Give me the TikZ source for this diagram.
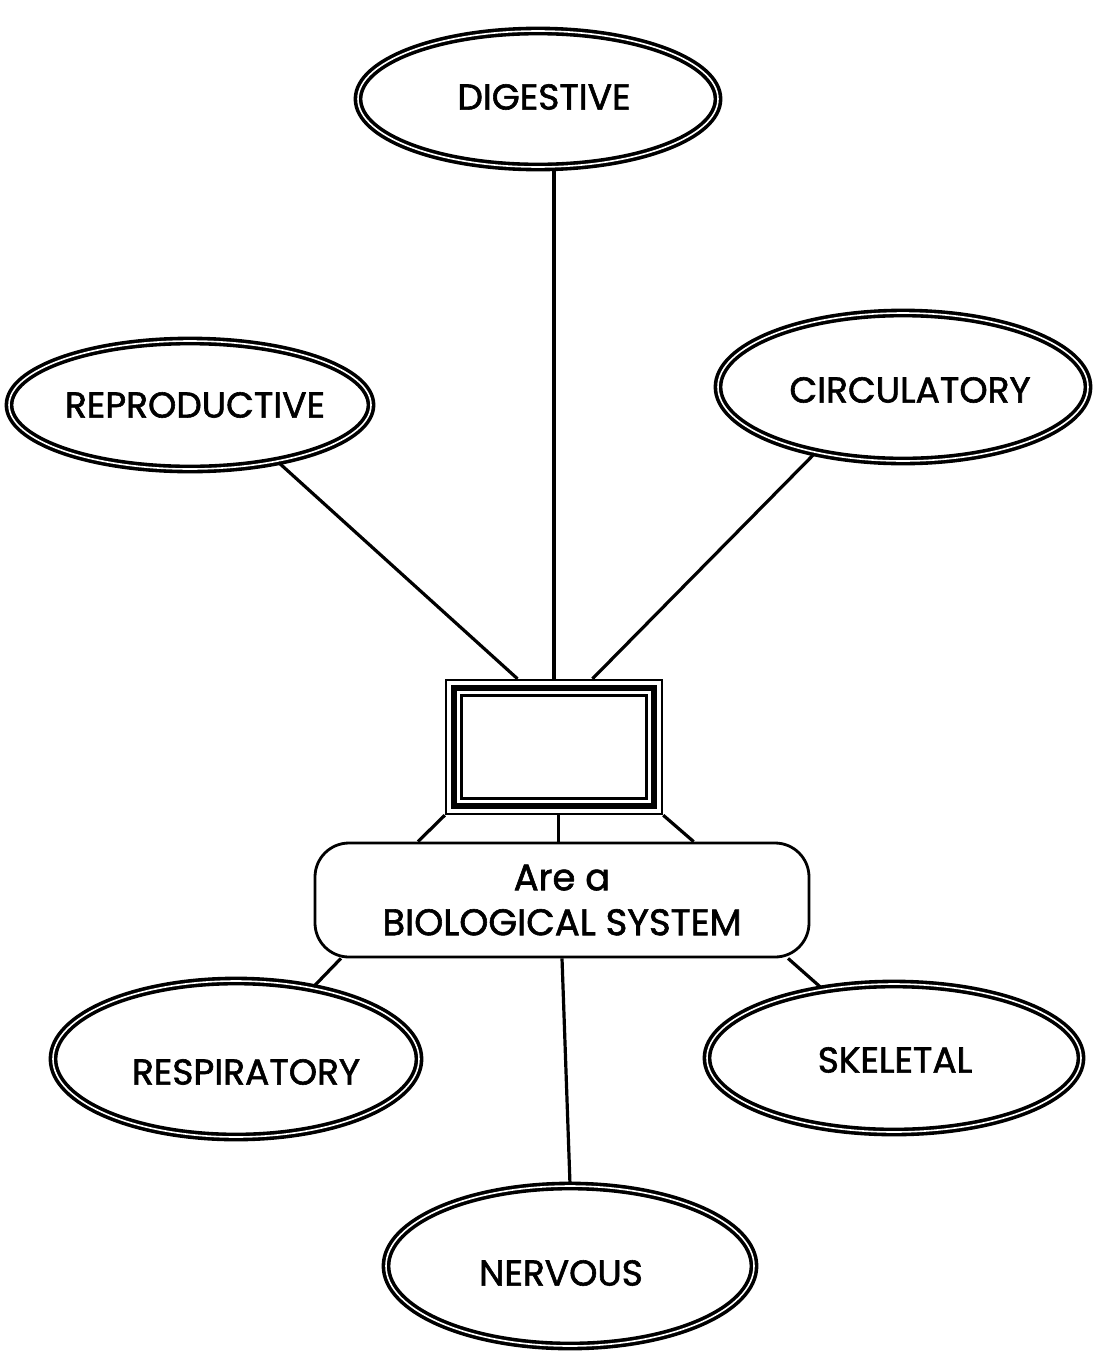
\documentclass[tikz,border=0pt]{standalone}
\usepackage{fontspec}
\setmainfont{Poppins}
\newfontfamily\lblfont{Poppins}[FakeBold=1.6]
\usetikzlibrary{shapes.geometric,calc}
\begin{document}
\begin{tikzpicture}[x=1pt,y=-1pt,
  sys/.style={ellipse, draw, line width=3.6pt, double=white, double distance=1.6pt, inner sep=0pt},
  systext/.style={font=\lblfont\fontsize{36}{42}\selectfont, inner sep=0pt},
  link/.style={line width=3.2pt},
]
\useasboundingbox[fill=white] (0,0) rectangle (1094,1365);

% the six body systems
\node[sys, minimum width=360, minimum height=136] (dig)  at (538,99)   {};
\node[sys, minimum width=362, minimum height=128] (rep)  at (190,405)  {};
\node[sys, minimum width=370, minimum height=148] (cir)  at (903,387)  {};
\node[sys, minimum width=366, minimum height=156] (resp) at (236,1059) {};
\node[sys, minimum width=374, minimum height=148] (skel) at (894,1058) {};
\node[sys, minimum width=368, minimum height=160] (nerv) at (570,1266) {};

\node[systext] (digt)  at (544,97)   {DIGESTIVE};
\node[systext] (rept)  at (195,405)  {REPRODUCTIVE};
\node[systext] (cirt)  at (910,390)  {CIRCULATORY};
\node[systext] (respt) at (246,1072) {RESPIRATORY};
\node[systext] (skelt) at (895,1060) {SKELETAL};
\node[systext] (nervt) at (561,1273) {NERVOUS};

% empty framed box in the middle
\node[draw, line width=2.4pt, minimum width=216, minimum height=134, inner sep=0pt] (box) at (554,747) {};
\draw[line width=6.5pt] ([xshift=9pt,yshift=-9pt]box.north west) rectangle ([xshift=-9pt,yshift=9pt]box.south east);
\draw[line width=2.6pt] ([xshift=16.5pt,yshift=-16.5pt]box.north west) rectangle ([xshift=-16.5pt,yshift=16.5pt]box.south east);

% caption box
\node[draw, line width=2.8pt, rounded corners=34pt, minimum width=494, minimum height=114,
      align=center, font=\lblfont\fontsize{37}{45}\selectfont] (bio) at (562,900)
      {Are a\\BIOLOGICAL SYSTEM};

% connectors above the box
\coordinate (bt1) at ($(box.north west)!0.333!(box.north east)$);
\coordinate (bt2) at ($(box.north west)!0.5!(box.north east)$);
\coordinate (bt3) at ($(box.north west)!0.676!(box.north east)$);
\draw[link] (rep.-33) -- (bt1);
\draw[link] (bt2) -- (bt2 |- dig.south);
\draw[link] (cir.-143) -- (bt3);

% box to caption
\coordinate (bb2) at ($(box.south west)!0.52!(box.south east)$);
\draw[link] (box.south west) -- ($(bio.north west)!0.21!(bio.north east)$);
\draw[link] (bb2) -- (bb2 |- bio.north);
\draw[link] (box.south east) -- ($(bio.north west)!0.765!(bio.north east)$);

% caption to the lower systems
\draw[link] ($(bio.south west)!0.055!(bio.south east)$) -- (resp.43);
\draw[link] ($(bio.south west)!0.5!(bio.south east)$) -- (nerv.north);
\draw[link] ($(bio.south west)!0.955!(bio.south east)$) -- (skel.136);
\end{tikzpicture}
\end{document}
